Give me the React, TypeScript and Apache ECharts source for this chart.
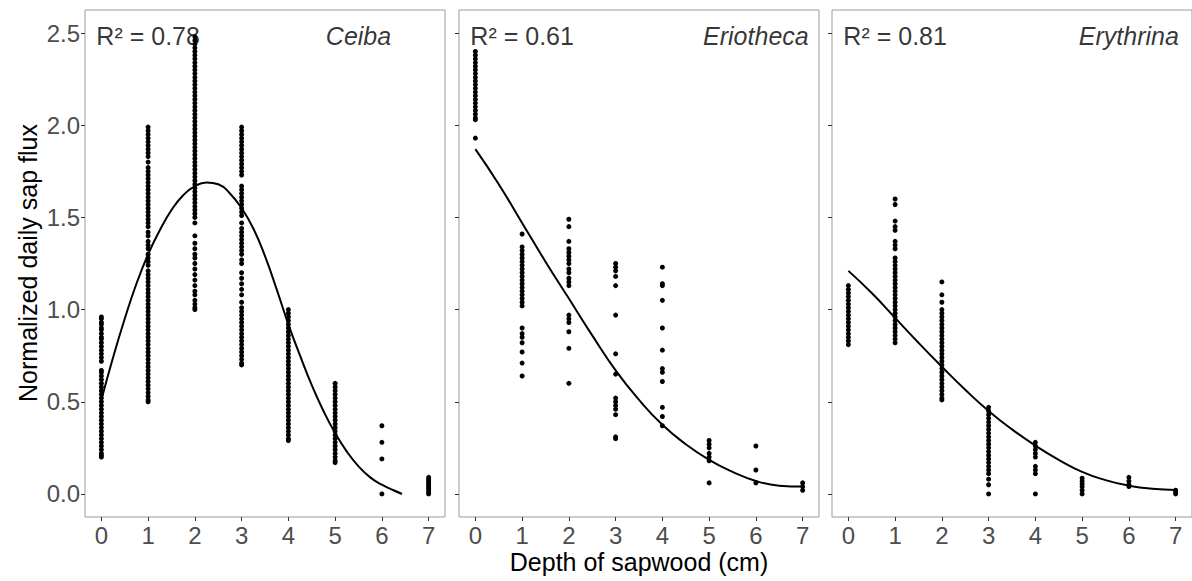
import React, { useEffect, useRef } from "react";
import * as echarts from "echarts";

const species = ["Ceiba", "Eriotheca", "Erythrina"];
const r2Labels = ["R² = 0.78", "R² = 0.61", "R² = 0.81"];
const speciesLabelX = [5.5, 6, 6];
const xTicks = [0, 1, 2, 3, 4, 5, 6, 7];
const yTicks = [0, 0.5, 1, 1.5, 2, 2.5];

// observed values per depth (index = depth in cm)
const ceibaObs = [
  [0.96,0.95,0.93,0.92,0.9,0.89,0.87,0.85,0.84,0.82,0.8,0.78,0.76,0.74,0.72,0.67,0.66,0.64,0.62,0.6,0.58,0.56,0.54,0.52,0.5,0.48,0.46,0.44,0.42,0.4,0.38,0.36,0.34,0.32,0.3,0.28,0.26,0.24,0.22,0.21,0.2],
  [1.99,1.97,1.95,1.93,1.91,1.89,1.87,1.85,1.83,1.8,1.77,1.75,1.73,1.71,1.69,1.67,1.65,1.63,1.61,1.59,1.57,1.55,1.53,1.51,1.49,1.47,1.45,1.42,1.4,1.37,1.35,1.33,1.3,1.28,1.26,1.24,1.21,1.19,1.17,1.15,1.13,1.11,1.09,1.07,1.05,1.03,1.01,0.99,0.97,0.95,0.93,0.91,0.89,0.87,0.85,0.83,0.81,0.79,0.77,0.75,0.73,0.71,0.69,0.67,0.65,0.63,0.61,0.59,0.57,0.55,0.53,0.51,0.5],
  [2.48,2.46,2.44,2.42,2.4,2.38,2.36,2.34,2.32,2.3,2.28,2.26,2.24,2.22,2.2,2.18,2.16,2.14,2.12,2.1,2.08,2.06,2.04,2.02,2.0,1.98,1.96,1.94,1.92,1.9,1.88,1.86,1.84,1.82,1.8,1.78,1.76,1.74,1.72,1.7,1.68,1.66,1.64,1.62,1.6,1.58,1.56,1.54,1.52,1.5,1.47,1.4,1.36,1.33,1.3,1.28,1.25,1.22,1.19,1.16,1.13,1.1,1.08,1.05,1.03,1.01,1.0],
  [1.99,1.97,1.95,1.93,1.91,1.89,1.87,1.85,1.83,1.81,1.79,1.77,1.75,1.73,1.67,1.65,1.63,1.61,1.59,1.57,1.55,1.53,1.51,1.47,1.44,1.42,1.4,1.38,1.36,1.34,1.32,1.3,1.27,1.25,1.2,1.17,1.14,1.11,1.08,1.04,1.01,0.99,0.97,0.95,0.93,0.91,0.89,0.87,0.85,0.83,0.81,0.79,0.77,0.75,0.73,0.71,0.7],
  [1.0,0.98,0.96,0.94,0.92,0.9,0.88,0.86,0.84,0.82,0.8,0.78,0.76,0.74,0.72,0.7,0.68,0.66,0.64,0.62,0.6,0.58,0.56,0.54,0.52,0.5,0.48,0.46,0.44,0.42,0.4,0.38,0.36,0.34,0.32,0.3,0.29],
  [0.6,0.58,0.56,0.54,0.52,0.5,0.48,0.46,0.44,0.42,0.4,0.38,0.36,0.34,0.32,0.3,0.28,0.26,0.24,0.22,0.2,0.18,0.17],
  [0.37,0.28,0.19,0.0],
  [0.09,0.08,0.07,0.06,0.05,0.04,0.03,0.02,0.01,0.0],
];
const eriothecaObs = [
  [2.4,2.38,2.36,2.34,2.32,2.3,2.28,2.26,2.24,2.22,2.2,2.18,2.16,2.14,2.12,2.1,2.08,2.06,2.04,2.03,1.93],
  [1.41,1.34,1.32,1.3,1.28,1.26,1.24,1.22,1.2,1.18,1.16,1.14,1.12,1.1,1.08,1.06,1.04,1.02,0.9,0.87,0.85,0.82,0.77,0.71,0.64],
  [1.49,1.45,1.37,1.33,1.31,1.29,1.27,1.25,1.22,1.2,1.17,1.15,1.13,0.97,0.95,0.93,0.88,0.79,0.6],
  [1.25,1.23,1.21,1.18,1.13,0.97,0.76,0.65,0.52,0.5,0.48,0.46,0.43,0.31,0.3],
  [1.23,1.14,1.13,1.05,0.9,0.78,0.68,0.66,0.61,0.47,0.42,0.37],
  [0.29,0.27,0.25,0.22,0.2,0.18,0.06],
  [0.26,0.13,0.06],
  [0.06,0.04,0.02],
];
const erythrinaObs = [
  [1.13,1.11,1.09,1.07,1.05,1.03,1.01,0.99,0.97,0.95,0.93,0.91,0.89,0.87,0.85,0.83,0.81],
  [1.6,1.57,1.48,1.45,1.43,1.37,1.35,1.33,1.28,1.26,1.24,1.22,1.2,1.18,1.16,1.14,1.12,1.1,1.08,1.06,1.04,1.02,1.0,0.98,0.96,0.94,0.92,0.9,0.88,0.86,0.84,0.82],
  [1.15,1.08,1.04,1.0,0.98,0.96,0.94,0.92,0.9,0.88,0.86,0.84,0.82,0.8,0.78,0.76,0.74,0.72,0.7,0.68,0.66,0.64,0.62,0.6,0.58,0.56,0.54,0.52,0.51],
  [0.47,0.45,0.43,0.41,0.39,0.37,0.35,0.33,0.31,0.29,0.27,0.25,0.23,0.21,0.19,0.17,0.15,0.13,0.11,0.08,0.05,0.0],
  [0.28,0.26,0.24,0.22,0.2,0.15,0.13,0.11,0.0],
  [0.085,0.07,0.055,0.04,0.02,0.0],
  [0.09,0.07,0.05,0.04],
  [0.02,0.01,0.0],
];

// fitted curves: [depth, value]
const ceibaFit = [
  [0,0.51],[0.25,0.74],[0.5,0.95],[0.75,1.14],[1,1.3],[1.25,1.43],[1.5,1.54],[1.75,1.62],[2,1.67],[2.25,1.69],[2.5,1.68],[2.75,1.63],[3,1.55],[3.25,1.44],[3.5,1.29],[3.75,1.11],[4,0.92],[4.25,0.75],[4.5,0.59],[4.75,0.45],[5,0.33],[5.25,0.23],[5.5,0.15],[5.75,0.09],[6,0.05],[6.25,0.02],[6.43,0.0],
];
const eriothecaFit = [
  [0,1.87],[0.5,1.68],[1,1.47],[1.5,1.26],[2,1.06],[2.5,0.86],[3,0.67],[3.5,0.51],[4,0.375],[4.5,0.27],[5,0.185],[5.5,0.12],[6,0.07],[6.5,0.045],[7,0.04],
];
const erythrinaFit = [
  [0,1.21],[0.5,1.09],[1,0.955],[1.5,0.82],[2,0.69],[2.5,0.565],[3,0.45],[3.5,0.35],[4,0.262],[4.5,0.185],[5,0.12],[5.5,0.075],[6,0.045],[6.5,0.028],[7,0.022],
];

const observations = [ceibaObs, eriothecaObs, erythrinaObs];
const fits = [ceibaFit, eriothecaFit, erythrinaFit];

const FONT = "'Liberation Sans', Arial, Helvetica, sans-serif";
const gridLefts = [85, 459, 832];
const gridWidth = 360;

export default function App() {
  const ref = useRef<HTMLDivElement>(null);
  useEffect(() => {
    if (!ref.current) return;
    const chart = echarts.init(ref.current, null, { renderer: "svg" });
    const grids = gridLefts.map((l) => ({
      left: l,
      top: 10,
      width: gridWidth,
      height: 507,
      show: true,
      borderColor: "#9a9a9a",
      borderWidth: 1,
      backgroundColor: "#fff",
    }));
    const xAxes = gridLefts.map((_, i) => ({
      gridIndex: i,
      type: "value",
      min: -0.35,
      max: 7.35,
      position: "bottom",
      splitLine: { show: false },
      axisLine: { show: false, onZero: false },
      axisTick: { show: true, length: 4, lineStyle: { color: "#333", width: 1 }, customValues: xTicks },
      axisLabel: { customValues: xTicks, fontSize: 24, color: "#4d4d4d", margin: 6, fontFamily: FONT },
    }));
    const yAxes = gridLefts.map((_, i) => ({
      gridIndex: i,
      type: "value",
      min: -0.125,
      max: 2.625,
      position: "left",
      splitLine: { show: false },
      axisLine: { show: false, onZero: false },
      axisTick: { show: true, length: 4, lineStyle: { color: "#333", width: 1 }, customValues: yTicks },
      axisLabel: {
        show: i === 0,
        customValues: yTicks,
        fontSize: 24,
        color: "#4d4d4d",
        margin: 5,
        fontFamily: FONT,
        formatter: (v: number) => v.toFixed(1),
      },
    }));
    const series: any[] = [];
    observations.forEach((obs, i) => {
      const pts: number[][] = [];
      obs.forEach((vals, depth) => vals.forEach((v) => pts.push([depth, v])));
      series.push({
        type: "scatter",
        xAxisIndex: i,
        yAxisIndex: i,
        data: pts,
        symbolSize: 5,
        itemStyle: { color: "#000", opacity: 1 },
        z: 3,
      });
      series.push({
        type: "line",
        xAxisIndex: i,
        yAxisIndex: i,
        data: fits[i],
        smooth: 0.5,
        showSymbol: false,
        symbol: "none",
        lineStyle: { color: "#000", width: 2 },
        z: 4,
      });
      series.push({
        type: "scatter",
        xAxisIndex: i,
        yAxisIndex: i,
        data: [[1, 2.485]],
        symbolSize: 0.1,
        itemStyle: { color: "rgba(0,0,0,0)" },
        label: {
          show: true,
          position: "inside",
          formatter: r2Labels[i],
          fontSize: 25,
          color: "#000",
          fontFamily: FONT,
          align: "center",
          verticalAlign: "middle",
        },
        z: 2,
      });
      series.push({
        type: "scatter",
        xAxisIndex: i,
        yAxisIndex: i,
        data: [[speciesLabelX[i], 2.485]],
        symbolSize: 0.1,
        itemStyle: { color: "rgba(0,0,0,0)" },
        label: {
          show: true,
          position: "inside",
          formatter: species[i],
          fontSize: 25,
          fontStyle: "italic",
          color: "#000",
          fontFamily: FONT,
          align: "center",
          verticalAlign: "middle",
        },
        z: 2,
      });
    });
    chart.setOption({
      animation: false,
      backgroundColor: "#fff",
      grid: grids,
      xAxis: xAxes,
      yAxis: yAxes,
      series,
      graphic: [
        {
          type: "text",
          x: 28,
          y: 263,
          rotation: Math.PI / 2,
          style: {
            text: "Normalized daily sap flux",
            fontSize: 25,
            fontFamily: FONT,
            fill: "#000",
            textAlign: "center",
            textVerticalAlign: "middle",
          },
        },
        {
          type: "text",
          x: 639,
          y: 562,
          style: {
            text: "Depth of sapwood (cm)",
            fontSize: 25,
            fontFamily: FONT,
            fill: "#000",
            textAlign: "center",
            textVerticalAlign: "middle",
          },
        },
      ],
    });
    return () => chart.dispose();
  }, []);
  return (
    <div
      ref={ref}
      style={{ position: "absolute", left: 0, top: 0, width: 1192, height: 581 }}
    />
  );
}
